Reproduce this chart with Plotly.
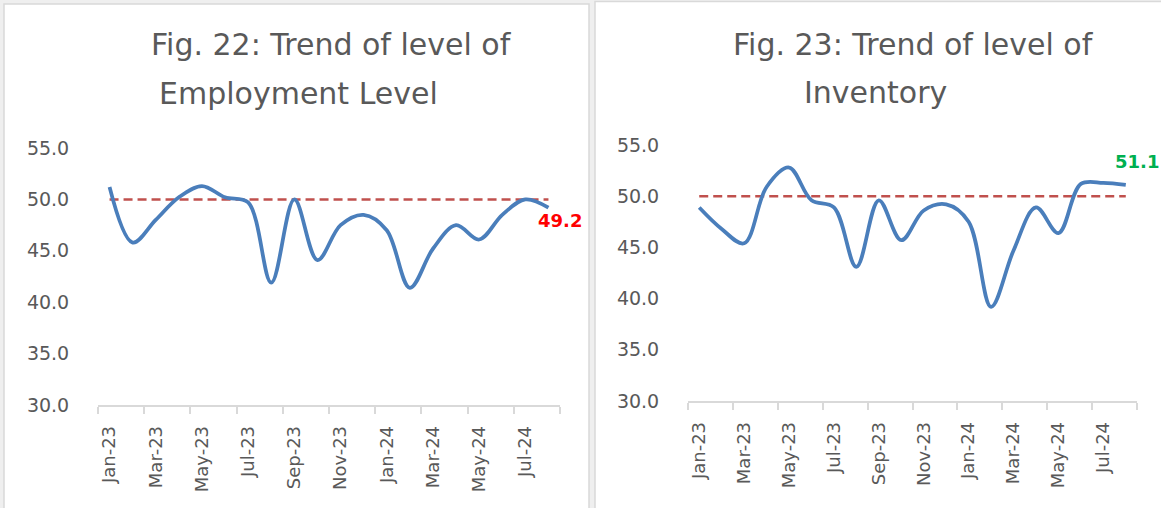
import plotly.graph_objects as go

months = ["Jan-23", "Feb-23", "Mar-23", "Apr-23", "May-23", "Jun-23", "Jul-23", "Aug-23",
          "Sep-23", "Oct-23", "Nov-23", "Dec-23", "Jan-24", "Feb-24", "Mar-24", "Apr-24",
          "May-24", "Jun-24", "Jul-24", "Aug-24"]
employment = [51.2, 45.8, 48.0, 50.2, 51.3, 50.2, 49.7, 41.9, 50.0, 44.1, 47.5, 48.5,
              47.0, 41.4, 45.2, 47.5, 46.1, 48.5, 50.0, 49.2]
inventory = [48.9, 46.8, 45.4, 50.9, 52.8, 49.6, 48.9, 43.1, 49.6, 45.7, 48.6, 49.2,
             47.5, 39.2, 44.7, 48.9, 46.4, 51.2, 51.3, 51.1]
threshold = 50.0
title_left = ["Fig. 22: Trend of level of", "Employment Level"]
title_right = ["Fig. 23: Trend of level of", "Inventory"]
y_ticks = [30, 35, 40, 45, 50, 55]

W, H = 1161, 508
xi = list(range(len(months)))
tickvals = xi[::2]
ticktext = months[::2]
boundaries = [i - 0.5 for i in range(0, len(months) + 1, 2)]

BLUE = "#4A7EBB"
RED = "#C0504D"
GRAY = "#595959"
FONT = "DejaVu Sans"

fig = go.Figure()
for k, (vals, ax) in enumerate([(employment, ""), (inventory, "2")]):
    fig.add_trace(go.Scatter(x=xi, y=[threshold] * len(xi), mode="lines",
                             line=dict(color=RED, width=2.5, dash="9px,5px"),
                             xaxis="x" + ax, yaxis="y" + ax, hoverinfo="skip", showlegend=False))
    fig.add_trace(go.Scatter(x=xi, y=vals, mode="lines",
                             line=dict(color=BLUE, width=3.75, shape="spline", smoothing=1.0),
                             xaxis="x" + ax, yaxis="y" + ax, showlegend=False))

def px(x):
    return x / W

def py(y):
    return 1 - y / H

xcommon = dict(range=[-0.5, len(months) - 0.5], tickmode="array", tickvals=tickvals,
               ticktext=ticktext, tickangle=-90, showgrid=False, zeroline=False,
               showline=True, linecolor="#d9d9d9", linewidth=1.5, automargin=False,
               ticks="outside", ticklen=12, tickcolor="rgba(0,0,0,0)",
               tickfont=dict(family=FONT, size=18, color=GRAY),
               minor=dict(tickvals=boundaries, ticks="outside", ticklen=7,
                          tickcolor="#d9d9d9", tickwidth=1.5, showgrid=False))
ycommon = dict(range=[30, 55], tickmode="array", tickvals=y_ticks, automargin=False,
               ticktext=[f"{v:.1f}" for v in y_ticks], showgrid=False, zeroline=False,
               showline=False, ticks="outside", ticklen=24, tickcolor="rgba(0,0,0,0)",
               tickfont=dict(family=FONT, size=19, color=GRAY))

fig.update_layout(
    width=W, height=H, autosize=False, margin=dict(l=0, r=0, t=0, b=0, pad=0),
    paper_bgcolor="#efefef", plot_bgcolor="rgba(0,0,0,0)",
    xaxis=dict(domain=[px(98), px(560)], anchor="y", **xcommon),
    yaxis=dict(domain=[py(405), py(148)], anchor="x", **ycommon),
    xaxis2=dict(domain=[px(688), px(1137)], anchor="y2", **xcommon),
    yaxis2=dict(domain=[py(401), py(145)], anchor="x2", **ycommon),
    shapes=[
        dict(type="rect", xref="paper", yref="paper", x0=px(4), x1=px(589), y0=py(510), y1=py(4),
             fillcolor="white", line=dict(color="#d9d9d9", width=1.5), layer="below"),
        dict(type="rect", xref="paper", yref="paper", x0=px(595), x1=px(1165), y0=py(510), y1=py(1.5),
             fillcolor="white", line=dict(color="#d9d9d9", width=1.5), layer="below"),
    ],
)

annotations = []
for lines, centers in [(title_left, [(331, 45), (298, 93)]), (title_right, [(913, 45), (875, 92)])]:
    for text, (cx, cy) in zip(lines, centers):
        annotations.append(dict(text=text, xref="paper", yref="paper", x=px(cx), y=py(cy),
                                xanchor="center", yanchor="middle", showarrow=False,
                                font=dict(family=FONT, size=30, color=GRAY)))
annotations.append(dict(text=f"<b>{employment[-1]:.1f}</b>", xref="x", yref="y",
                        x=xi[-1], y=employment[-1], showarrow=False, xshift=12, yshift=-13,
                        font=dict(family=FONT, size=18, color="#FF0000")))
annotations.append(dict(text=f"<b>{inventory[-1]:.1f}</b>", xref="x2", yref="y2",
                        x=xi[-1], y=inventory[-1], showarrow=False, xshift=11, yshift=23,
                        font=dict(family=FONT, size=18, color="#00B050")))
fig.update_layout(annotations=annotations)

fig.write_html("out.html", config={"displayModeBar": False},
               post_script="document.body.style.margin='0';document.body.style.overflow='hidden';")
